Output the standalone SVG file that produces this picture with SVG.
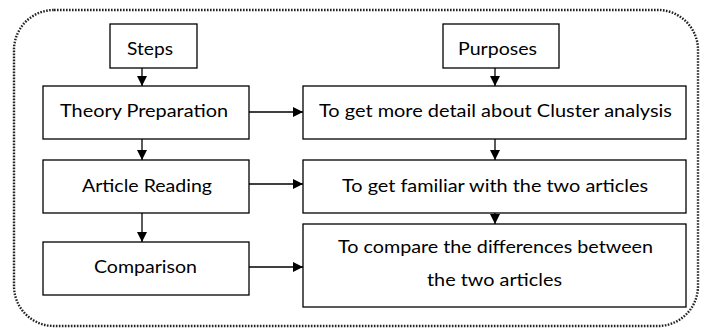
<svg xmlns="http://www.w3.org/2000/svg" width="703" height="329" viewBox="0 0 703 329">
<style>
.box{fill:#fff;stroke:#000;stroke-width:1.3}
.t{font-family:Lato,"Liberation Sans",sans-serif;font-size:18px;fill:#000;text-anchor:middle}
.c{stroke:#000;stroke-width:1.3;fill:none}
</style>
<defs>
<marker id="ah" viewBox="0 0 10 10" refX="10" refY="5" markerWidth="10" markerHeight="10" markerUnits="userSpaceOnUse" orient="auto">
<path d="M0,0 L10,5 L0,10 Z" fill="#000"/>
</marker>
</defs>
<rect x="14" y="10" width="684" height="316" rx="40" ry="40" fill="none" stroke="#222" stroke-width="2.4" stroke-dasharray="1.6 1.4"/>
<g id="connectors">
<line class="c" x1="142" y1="68" x2="142" y2="86" marker-end="url(#ah)"/>
<line class="c" x1="142" y1="139" x2="142" y2="160" marker-end="url(#ah)"/>
<line class="c" x1="142" y1="213" x2="142" y2="242" marker-end="url(#ah)"/>
<line class="c" x1="495" y1="68" x2="495" y2="86" marker-end="url(#ah)"/>
<line class="c" x1="495" y1="139" x2="495" y2="160" marker-end="url(#ah)"/>
<line class="c" x1="495" y1="213" x2="495" y2="224" marker-end="url(#ah)"/>
<line class="c" x1="249" y1="112" x2="303" y2="112" marker-end="url(#ah)"/>
<line class="c" x1="249" y1="184" x2="303" y2="184" marker-end="url(#ah)"/>
<line class="c" x1="249" y1="267" x2="303" y2="267" marker-end="url(#ah)"/>
</g>
<g id="steps"><rect class="box" x="110" y="24" width="87" height="44"/><text class="t" x="150" y="55" textLength="46" lengthAdjust="spacingAndGlyphs">Steps</text></g>
<g id="purposes"><rect class="box" x="443" y="24" width="116" height="44"/><text class="t" x="497.5" y="55" textLength="79" lengthAdjust="spacingAndGlyphs">Purposes</text></g>
<g id="theory"><rect class="box" x="43" y="86" width="206" height="53"/><text class="t" x="144" y="117" textLength="168" lengthAdjust="spacingAndGlyphs">Theory Preparation</text></g>
<g id="article"><rect class="box" x="43" y="160" width="206" height="53"/><text class="t" x="147" y="192" textLength="130" lengthAdjust="spacingAndGlyphs">Article Reading</text></g>
<g id="comparison"><rect class="box" x="43" y="242" width="206" height="53"/><text class="t" x="145.5" y="273" textLength="103" lengthAdjust="spacingAndGlyphs">Comparison</text></g>
<g id="cluster"><rect class="box" x="303" y="86" width="383" height="53"/><text class="t" x="495.5" y="117" textLength="353" lengthAdjust="spacingAndGlyphs">To get more detail about Cluster analysis</text></g>
<g id="familiar"><rect class="box" x="303" y="160" width="383" height="53"/><text class="t" x="495" y="192" textLength="306" lengthAdjust="spacingAndGlyphs">To get familiar with the two articles</text></g>
<g id="compare"><rect class="box" x="303" y="224" width="383" height="83"/><text class="t" x="495.5" y="253" textLength="315" lengthAdjust="spacingAndGlyphs">To compare the differences between</text><text class="t" x="494.5" y="286" textLength="135" lengthAdjust="spacingAndGlyphs">the two articles</text></g>
</svg>
